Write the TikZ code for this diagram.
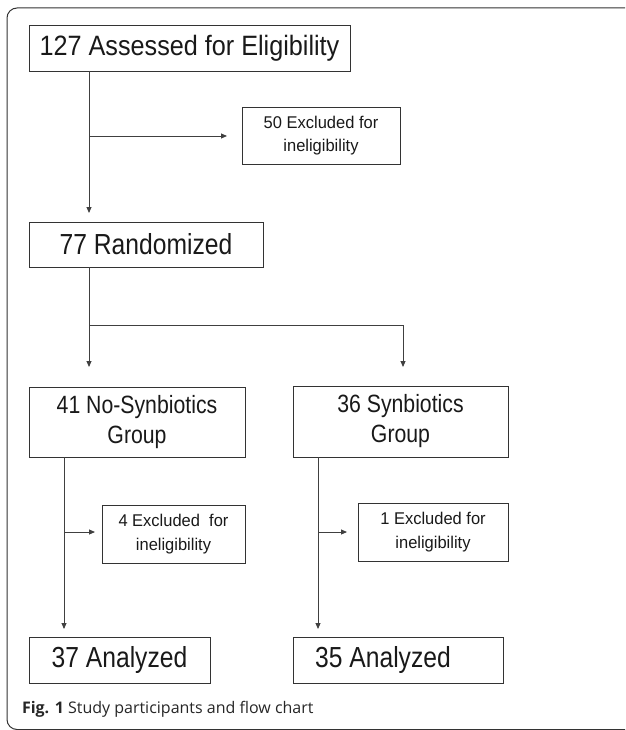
\documentclass[tikz,border=0pt]{standalone}
\usepackage{fontspec}
\setmainfont{Liberation Sans}
\newfontfamily\capfont{Open Sans}
\newfontfamily\fnineteen[FakeStretch=0.9]{Liberation Sans}
\newfontfamily\feightfive[FakeStretch=0.85]{Liberation Sans}
\newfontfamily\fninefive[FakeStretch=0.97]{Liberation Sans}
\usetikzlibrary{arrows.meta}
\begin{document}
\begin{tikzpicture}[x=1pt,y=-1pt,
  every node/.style={inner sep=0pt,outer sep=0pt},
  box/.style={draw=black!80,line width=0.9pt,rectangle,align=center,text=black!90},
  conn/.style={draw=black!75,line width=0.9pt},
  arr/.style={conn,-{Triangle[length=6pt,width=5pt]}},
  title/.style={font=\fnineteen\fontsize{28}{32}\selectfont},
  big/.style={font=\feightfive\fontsize{29}{33}\selectfont},
  mid/.style={font=\feightfive\fontsize{25}{30}\selectfont},
  small/.style={font=\fninefive\fontsize{17}{23.5}\selectfont}]
\useasboundingbox (0,0) rectangle (625,730);
\draw[draw=black!80,line width=1pt,rounded corners=10pt] (625,8) -- (7,8) -- (7,729.5) -- (625,729.5);

\node[box,title,minimum width=321pt,minimum height=46pt] (b1) at (189.5,48) {127 Assessed for Eligibility};
\node[box,small,minimum width=158pt,minimum height=57pt] (e1) at (321,135.5) {50 Excluded for\\ineligibility};
\node[box,big,minimum width=234pt,minimum height=45pt] (b2) at (146,244.5) {77 Randomized};
\node[box,mid,minimum width=216pt,minimum height=70pt] (g1) at (137,422) {41 No-Synbiotics\\Group};
\node[box,mid,minimum width=215pt,minimum height=71pt] (g2) at (400.5,421.5) {36 Synbiotics\\Group};
\node[box,small,minimum width=143pt,minimum height=58pt] (e2) at (173.5,534) {4 Excluded\ \ for\\ineligibility};
\node[box,small,minimum width=150pt,minimum height=58pt] (e3) at (433,532) {1 Excluded for\\ineligibility};
\node[box,big,minimum width=181pt,minimum height=46pt] (a1) at (119.5,660) {37 Analyzed};
\node[box,big,minimum width=210pt,minimum height=46pt] (a2) at (398,660) {35 Analyzed\hspace*{30pt}};

\node[anchor=base west,font=\capfont\fontsize{16}{20}\selectfont,text=black!85] (cap) at (22,713) {\textbf{Fig. 1} Study participants and flow chart};

% top trunk
\coordinate (t1) at (89,71);
\coordinate (j1) at (89,136);
\draw[arr,shorten >=9pt] (t1) -- (t1 |- b2.north);
\draw[arr,shorten >=15pt] (j1) -- (j1 -| e1.west);

% randomization split
\coordinate (t2) at (89,267);
\coordinate (j2) at (89,325);
\coordinate (j3) at (403,325);
\draw[conn] (t2) -- (j2) -- (j3);
\draw[arr,shorten >=20pt] (j2) -- (j2 |- g1.north);
\draw[arr,shorten >=19pt] (j3) -- (j3 |- g2.north);

% left arm
\coordinate (t3) at (64,457);
\coordinate (j4) at (64,532);
\draw[arr,shorten >=8pt] (t3) -- (t3 |- a1.north);
\draw[arr,shorten >=7pt] (j4) -- (j4 -| e2.west);

% right arm
\coordinate (t4) at (318,457);
\coordinate (j5) at (318,532);
\draw[arr,shorten >=8pt] (t4) -- (t4 |- a2.north);
\draw[arr,shorten >=11pt] (j5) -- (j5 -| e3.west);
\end{tikzpicture}
\end{document}
